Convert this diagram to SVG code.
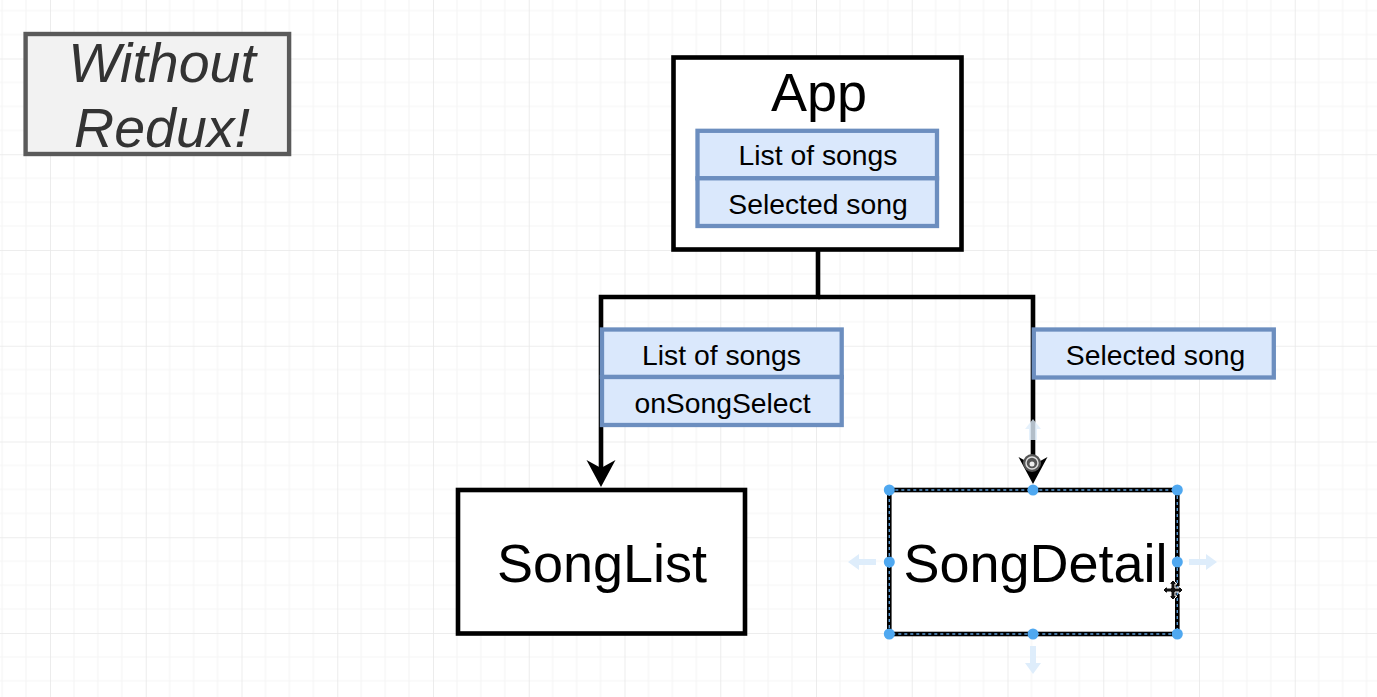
<svg xmlns="http://www.w3.org/2000/svg" width="1377" height="697" viewBox="0 0 1377 697">
<style>
.t{font-family:"Liberation Sans",Arial,Helvetica,sans-serif;fill:#000;text-anchor:middle}
.big{font-size:54px}
.lbl{font-size:28.3px}
.box{fill:#fff;stroke:#000;stroke-width:4.6}
.cell{fill:#dae8fc;stroke:#6c8ebf;stroke-width:4.3}
.edge{fill:none;stroke:#000;stroke-width:4.6}
.handle{fill:#4fa8f0}
.hover{fill:#deedfb}
</style>
<defs>
<pattern id="grid" patternUnits="userSpaceOnUse" x="50" y="58.5" width="95.75" height="95.75">
<path d="M23.94 0V95.75M47.88 0V95.75M71.81 0V95.75M0 23.94H95.75M0 47.88H95.75M0 71.81H95.75" stroke="#f5f5f5" stroke-width="1.2" fill="none"/>
<path d="M0 0V95.75M0 0H95.75" stroke="#e8e8e8" stroke-width="1.6" fill="none"/>
</pattern>
<marker id="arr" markerUnits="userSpaceOnUse" viewBox="-12 -16 32 32" markerWidth="32" markerHeight="32" refX="0" refY="0" orient="auto">
<path d="M17 0L-10 -14.5L-2 0L-10 14.5Z" fill="#000"/>
</marker>
</defs>
<rect width="1377" height="697" fill="#fff"/>
<rect width="1377" height="697" fill="url(#grid)"/>

<g id="note">
<rect x="25.6" y="34" width="263.5" height="120" fill="#f2f2f2" stroke="#5a5a5a" stroke-width="4.4"/>
<text class="t" x="162" y="82" font-size="55.5" font-style="italic" style="fill:#333">Without</text>
<text class="t" x="162" y="147" font-size="55.5" font-style="italic" style="fill:#333">Redux!</text>
</g>

<g id="connectors">
<path class="edge" d="M818 249.5V297H601V470" marker-end="url(#arr)"/>
<path class="edge" d="M818 297H1033V467" marker-end="url(#arr)"/>
</g>

<g id="app">
<rect class="box" x="673.5" y="57.5" width="288" height="192"/>
<text class="t big" x="819" y="110.5">App</text>
<rect class="cell" x="697.5" y="130.8" width="239.5" height="47.5"/>
<rect class="cell" x="697.5" y="178.3" width="239.5" height="47.7"/>
<text class="t lbl" x="818" y="165">List of songs</text>
<text class="t lbl" x="818" y="214">Selected song</text>
</g>

<g id="songlist-props">
<rect class="cell" x="602" y="329.5" width="239.7" height="47.5"/>
<rect class="cell" x="602" y="377" width="239.7" height="48"/>
<text class="t lbl" x="721.5" y="365">List of songs</text>
<text class="t lbl" x="722.5" y="413.3">onSongSelect</text>
</g>

<g id="songdetail-props">
<rect class="cell" x="1033.8" y="329.5" width="240" height="48"/>
<text class="t lbl" x="1155.5" y="365">Selected song</text>
</g>

<g id="songlist">
<rect class="box" x="458" y="490" width="287" height="143.5"/>
<text class="t big" x="602" y="581.7">SongList</text>
</g>

<g id="songdetail">
<rect class="box" x="889.3" y="490" width="288" height="144"/>
<rect x="889.3" y="490" width="288" height="144" fill="none" stroke="#5b9bd5" stroke-width="1.4" stroke-dasharray="3 3"/>
<text class="t big" x="1035.5" y="581.7">SongDetail</text>
</g>

<g id="selection-ui">
<path class="hover" d="M1029 440V429H1025L1033 419L1041 429H1037V440Z" opacity="0.8"/>
<path class="hover" d="M876 559H859V554L848 562L859 570V565H876Z"/>
<path class="hover" d="M1189 559H1206V554L1217 562L1206 570V565H1189Z"/>
<path class="hover" d="M1030 646V663H1025L1033 674L1041 663H1036V646Z"/>
<circle cx="1032" cy="463" r="9" fill="#555"/>
<circle cx="1032" cy="463" r="6" fill="none" stroke="#ddd" stroke-width="1.5"/>
<circle cx="1032" cy="464" r="2.5" fill="#eee"/>
<circle class="handle" cx="889.3" cy="490" r="5.5"/>
<circle class="handle" cx="1033" cy="490" r="5.5"/>
<circle class="handle" cx="1177.3" cy="490" r="5.5"/>
<circle class="handle" cx="889.3" cy="562" r="5.5"/>
<circle class="handle" cx="1177.3" cy="562" r="5.5"/>
<circle class="handle" cx="889.3" cy="634" r="5.5"/>
<circle class="handle" cx="1033" cy="634" r="5.5"/>
<circle class="handle" cx="1177.3" cy="634" r="5.5"/>
<path d="M1173 580L1177 584H1175V588H1179V586L1183 590L1179 594V592H1175V596H1177L1173 600L1169 596H1171V592H1167V594L1163 590L1167 586V588H1171V584H1169Z" fill="#111" stroke="#fff" stroke-width="1"/>
</g>
</svg>
